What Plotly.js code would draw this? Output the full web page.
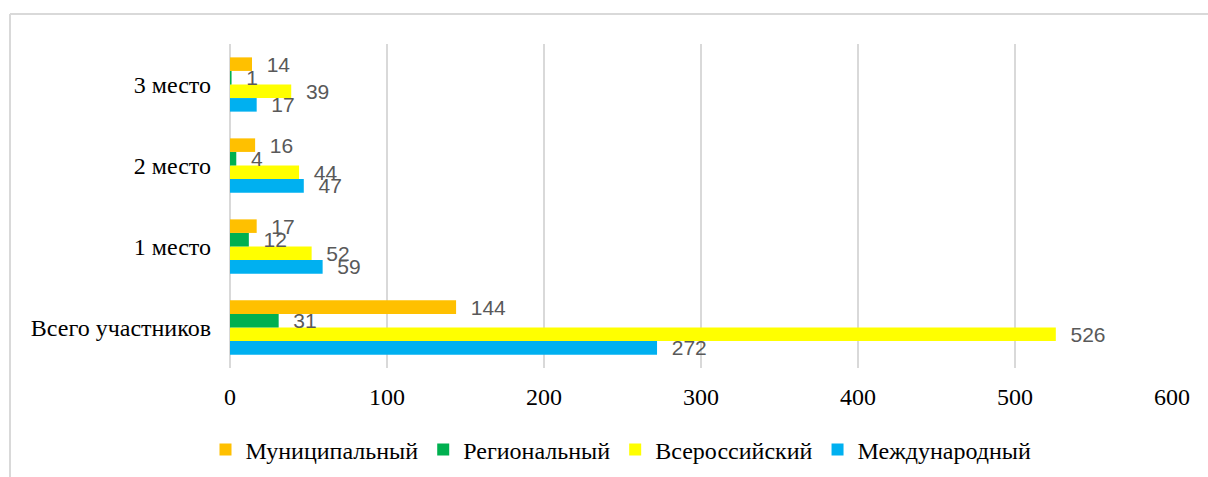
<!DOCTYPE html>
<html>
<head>
<meta charset="utf-8">
<script src="https://cdn.plot.ly/plotly-3.0.1.min.js"></script>
<style>html,body{margin:0;padding:0;background:#fff;}#chart{width:1208px;height:477px;}</style>
</head>
<body>
<div id="chart"></div>
<script>
const categories = ['Всего участников', '1 место', '2 место', '3 место'];
const municipal = [144, 17, 16, 14];
const regional = [31, 12, 4, 1];
const allRussian = [526, 52, 44, 39];
const international = [272, 59, 47, 17];
const xTicks = [0, 100, 200, 300, 400, 500, 600];

const serif = 'Liberation Serif, Times New Roman, serif';
const labelFont = {family: 'Liberation Sans, Arial, sans-serif', size: 21, color: '#595959'};
function mk(name, vals, color) {
  return {
    type: 'bar', orientation: 'h', name: name,
    y: categories, x: vals,
    marker: {color: color},
    text: vals.map(v => '  ' + v), textposition: 'outside',
    textfont: labelFont, constraintext: 'none', cliponaxis: false,
    hoverinfo: 'x+name'
  };
}
const traces = [
  mk('Международный', international, '#00B0F0'),
  mk('Всероссийский', allRussian, '#FFFF00'),
  mk('Региональный', regional, '#00B050'),
  mk('Муниципальный', municipal, '#FFC000')
];

const L = 230, R = 1172, T = 44, B = 368;
const px = x => (x - L) / (R - L);
const py = y => (B - y) / (B - T);

const layout = {
  width: 1208, height: 477,
  margin: {l: L, r: 1208 - R, t: T, b: 477 - B, pad: 0, autoexpand: false},
  paper_bgcolor: '#fff', plot_bgcolor: '#fff',
  barmode: 'group', bargap: 0.33, bargroupgap: 0,
  showlegend: true,
  legend: {
    orientation: 'h', traceorder: 'reversed',
    xref: 'paper', x: px(621), xanchor: 'center',
    yref: 'paper', y: py(450), yanchor: 'middle',
    font: {family: serif, size: 24, color: '#000'},
    itemwidth: 30
  },
  xaxis: {
    range: [0, 600], tickvals: xTicks, ticktext: xTicks.map(String),
    showgrid: true, gridcolor: '#d9d9d9', gridwidth: 2,
    zeroline: true, zerolinecolor: '#d9d9d9', zerolinewidth: 2,
    showline: false, ticks: '', ticklabelstandoff: 12,
    tickfont: {family: serif, size: 24, color: '#000'},
    fixedrange: true, automargin: false
  },
  yaxis: {
    type: 'category', categoryorder: 'array', categoryarray: categories,
    showgrid: false, zeroline: false, showline: false, ticks: '',
    ticklabelstandoff: 18,
    tickfont: {family: serif, size: 24, color: '#000'},
    fixedrange: true, automargin: false
  },
  shapes: [
    {type: 'line', xref: 'paper', yref: 'paper', x0: px(10), x1: px(1210), y0: py(14), y1: py(14), line: {color: '#d9d9d9', width: 2}},
    {type: 'line', xref: 'paper', yref: 'paper', x0: px(10), x1: px(10), y0: py(14), y1: py(480), line: {color: '#d9d9d9', width: 2}}
  ]
};

Plotly.newPlot('chart', traces, layout, {displayModeBar: false, staticPlot: true});
</script>
</body>
</html>
